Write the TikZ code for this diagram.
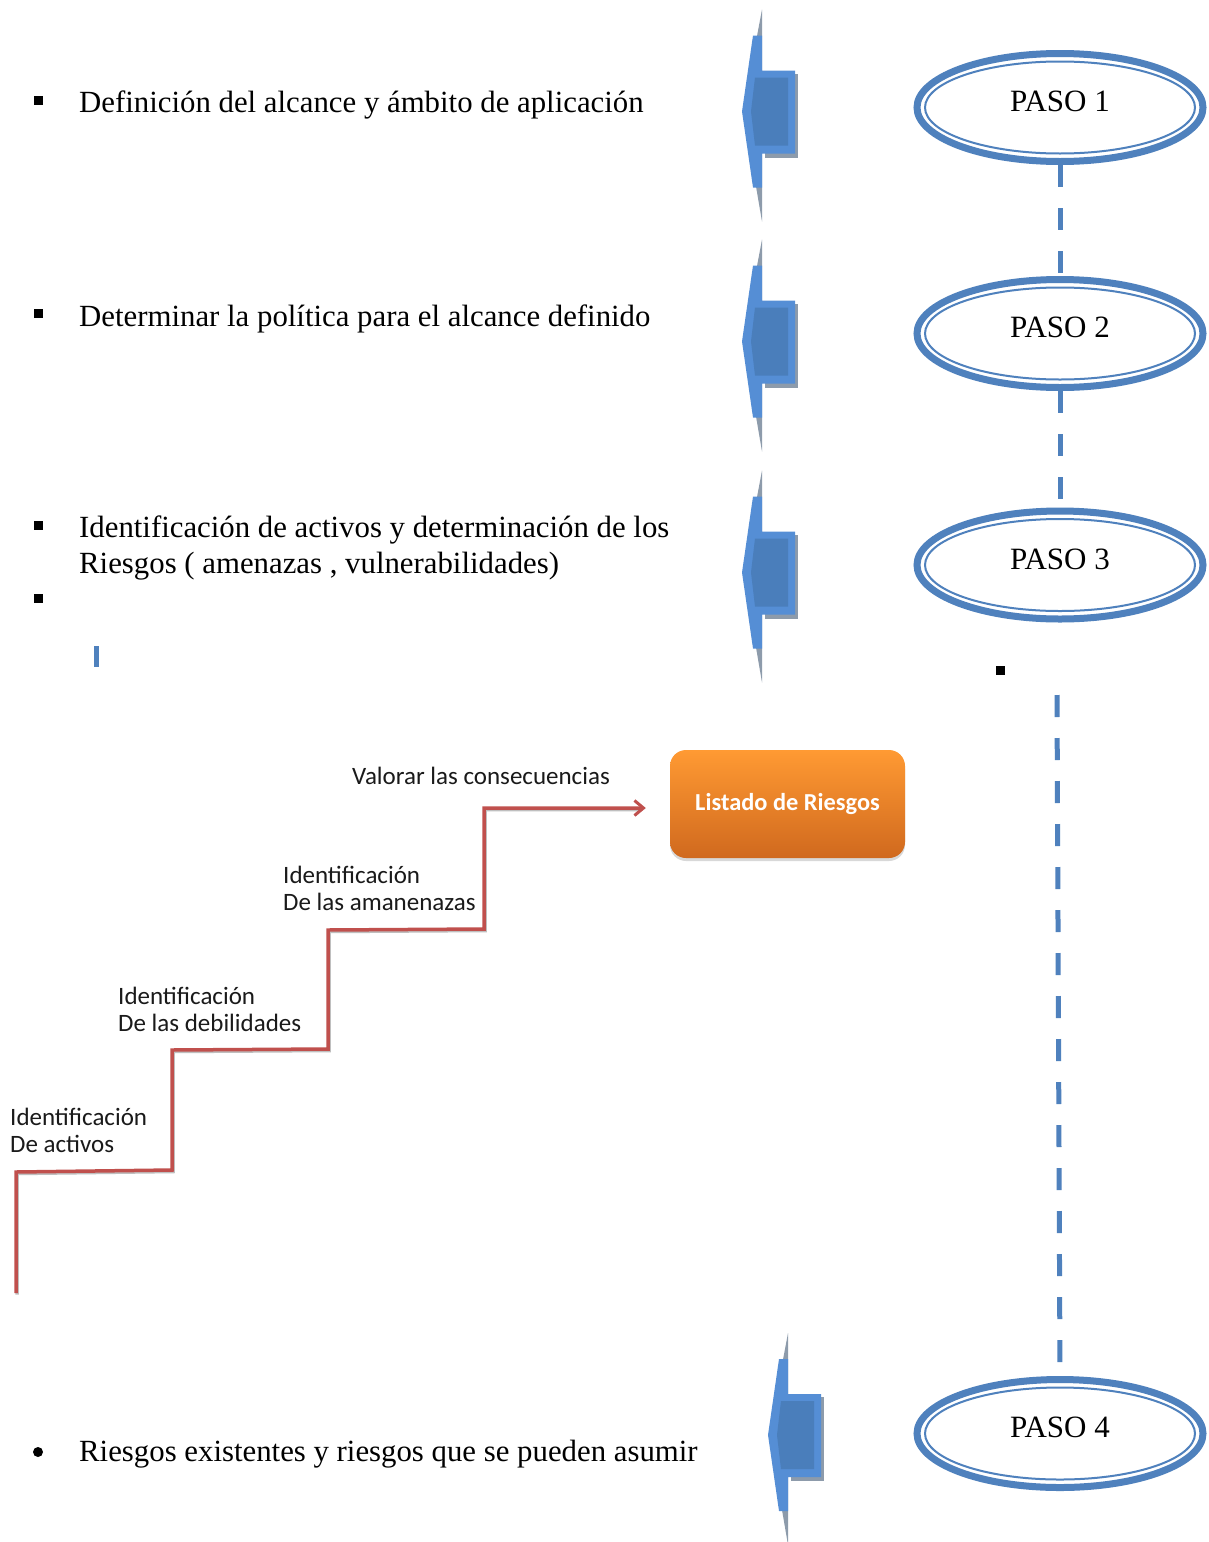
\documentclass[tikz,border=0pt]{standalone}
\usepackage{fontspec}
\setmainfont{Liberation Serif}
\newfontfamily\labelfont{Carlito}
\usetikzlibrary{shapes.geometric,arrows.meta,shadows}

\definecolor{stepblue}{HTML}{4F81BD}
\definecolor{arrowblue}{HTML}{558ED5}
\definecolor{arrowinner}{HTML}{4A7EBB}
\definecolor{arrowshade}{HTML}{8D9BAB}
\definecolor{stairred}{HTML}{C0504D}
\definecolor{boxtop}{HTML}{FF9A33}
\definecolor{boxbottom}{HTML}{D0691E}
\definecolor{labelink}{HTML}{1A1A1A}

\tikzset{
  item/.style={anchor=base west, inner sep=0pt, font=\fontsize{30.8}{36}\selectfont},
  steplabel/.style={anchor=base west, inner sep=0pt, text=labelink,
    font=\labelfont\fontsize{25}{27}\selectfont},
  paso/.style={ellipse, draw=stepblue, line width=7pt, fill=white,
    minimum width=286pt, minimum height=108pt, inner sep=0pt, text depth=12pt,
    font=\fontsize{31}{36}\selectfont},
  ring/.style={draw=stepblue, line width=2pt},
  link/.style={draw=stepblue, line width=5pt, dash pattern=on 22pt off 21pt},
  sqbullet/.style={fill=black, minimum size=9pt, inner sep=0pt},
  stair/.style={draw=stairred, line width=3.5pt, line join=miter,
    -{Straight Barb[length=9pt,width=15pt,line width=3pt]}},
  stairshade/.style={draw=black!25, line width=3.5pt, line join=miter},
  listbox/.style={rounded corners=16pt, minimum width=235pt, minimum height=108pt,
    top color=boxtop, bottom color=boxbottom, draw=none, text=white,
    drop shadow={shadow xshift=0pt, shadow yshift=-3pt, opacity=0.3},
    font=\labelfont\bfseries\fontsize{24.4}{28}\selectfont},
  larrow/.pic={
    % thin shade behind the head and the body
    \fill[arrowshade] (0,-102) -- (-19,-1) -- (0,110) -- cycle;
    \fill[arrowshade] (3,-38) rectangle (36,46);
    % the arrow itself
    \fill[arrowblue] (-9,-76) -- (0,-76) -- (0,-41) -- (33,-41) -- (33,42)
      -- (0,42) -- (0,76) -- (-9,76) -- (-20,0) -- cycle;
    \fill[arrowinner] (-7,-34) -- (26,-34) -- (26,34) -- (-7,34) -- (-11,0) -- cycle;
  }
}

\begin{document}
\begin{tikzpicture}[x=1pt,y=-1pt]
\useasboundingbox[fill=white] (0,0) rectangle (1209,1542);

% bullet texts on the left
\node[sqbullet] (b1) at (38.5,100) {};
\node[item] (t1) at (79,112) {Definición del alcance y ámbito de aplicación};
\node[sqbullet] (b2) at (38.5,313) {};
\node[item] (t2) at (79,326) {Determinar la política para el alcance definido};
\node[sqbullet] (b3) at (38.5,525) {};
\node[item] (t3a) at (79,537) {Identificación de activos y determinación de los};
\node[item] (t3b) at (79,573) {Riesgos ( amenazas , vulnerabilidades)};
\node[sqbullet] (b4) at (38.5,598) {};
\fill[stepblue] (94,646) rectangle (99,667);
\node[circle, fill=black, minimum size=10pt, inner sep=0pt] (b5) at (38,1452) {};
\node[item] (t4) at (79,1461) {Riesgos existentes y riesgos que se pueden asumir};

% left-pointing block arrows
\pic at (762,111.5) {larrow};
\pic at (762,341.5) {larrow};
\pic at (762,572.5) {larrow};
\pic at (788,1435) {larrow};

% steps
\node[paso] (p1) at (1060,107.5) {PASO 1};
\node[paso] (p2) at (1060,333.5) {PASO 2};
\node[paso] (p3) at (1060,565) {PASO 3};
\node[paso] (p4) at (1060,1433.5) {PASO 4};
\foreach \p in {p1,p2,p3,p4}
  \draw[ring] (\p.center) ellipse [x radius=135pt, y radius=46pt];

\node[sqbullet] (b6) at (1000,670) {};

% dashed links between the steps
\draw[link] (p1.south) -- (p2.north);
\draw[link] (p2.south) -- (p3.north);
\coordinate (q3) at (1057,695);
\draw[link] (q3) -- (p4.north);

% risk list and the staircase leading to it
\node[listbox] (list) at (787.5,804) {Listado de Riesgos};

\coordinate (s0) at (16,1293);
\draw[stairshade] ([xshift=1pt,yshift=-1.5pt]s0) -- (17,1173.5) -- (173,1171.5) -- (173,1051.5)
  -- (329,1050.5) -- (329,931.5) -- (485,930.5) -- (485,809.5) -- (640,809.5);
\draw[stair] (s0) -- (16,1172) -- (172,1170) -- (172,1050) -- (328,1049)
  -- (328,930) -- (484,929) -- (484,808) -- ([xshift=-24pt,yshift=-4pt]list.west);

\node[steplabel] (l1a) at (10,1125) {Identificación};
\node[steplabel] (l1b) at (10,1152) {De activos};
\node[steplabel] (l2a) at (118,1004) {Identificación};
\node[steplabel] (l2b) at (118,1031) {De las debilidades};
\node[steplabel] (l3a) at (283,883) {Identificación};
\node[steplabel] (l3b) at (283,910) {De las amanenazas};
\node[steplabel] (l4) at (352,784) {Valorar las consecuencias};
\end{tikzpicture}
\end{document}
